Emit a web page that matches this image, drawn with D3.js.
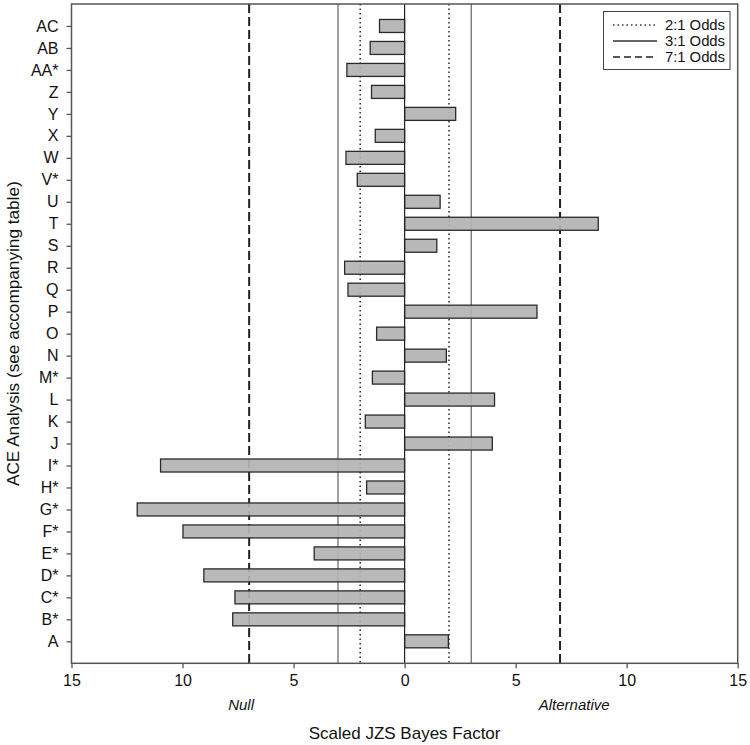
<!DOCTYPE html>
<html>
<head>
<meta charset="utf-8">
<script src="https://cdn.jsdelivr.net/npm/d3@7"></script>
<style>
  body { margin: 0; background: #fff; }
  svg { display: block; font-family: "Liberation Sans", Arial, sans-serif; }
</style>
</head>
<body>
<svg id="chart" width="750" height="745"></svg>
<script>
const categories = ["A","B*","C*","D*","E*","F*","G*","H*","I*","J","K","L","M*","N","O","P","Q","R","S","T","U","V*","W","X","Y","Z","AA*","AB","AC"];
const values = [1.97,-7.74,-7.64,-9.04,-4.07,-9.98,-12.04,-1.71,-10.99,3.95,-1.77,4.05,-1.45,1.88,-1.26,5.96,-2.55,-2.7,1.45,8.72,1.6,-2.13,-2.64,-1.32,2.3,-1.49,-2.6,-1.55,-1.13];
const xTicks = [-15,-10,-5,0,5,10,15];
const refLines = [
  {label: "2:1 Odds", value: 2, style: "dotted"},
  {label: "3:1 Odds", value: 3, style: "solid"},
  {label: "7:1 Odds", value: 7, style: "dashed"}
];
const sideLabels = [{text: "Null", value: -7.5}, {text: "Alternative", value: 7.5}];

const svg = d3.select("#chart");
const L = 71.5, R = 737.7, T = 4, B = 663.3;

const x = d3.scaleLinear().domain([-15, 15]).range([L, R]);
const y = d3.scalePoint().domain(categories).range([B, T]).padding(1);
const barH = 13;

const styles = {
  dotted: {stroke: "#333", width: 1.6, dash: "1.5,3"},
  solid: {stroke: "#555", width: 1.1, dash: null},
  dashed: {stroke: "#222", width: 2, dash: "9,4"}
};

// reference lines
refLines.forEach(r => {
  [-r.value, r.value].forEach(v => {
    const s = styles[r.style];
    svg.append("line")
      .attr("x1", x(v)).attr("x2", x(v))
      .attr("y1", T).attr("y2", B)
      .attr("stroke", s.stroke).attr("stroke-width", s.width)
      .attr("stroke-dasharray", s.dash);
  });
});

// bars
svg.append("g").selectAll("rect").data(categories).join("rect")
  .attr("x", (d, i) => x(Math.min(0, values[i])))
  .attr("width", (d, i) => Math.abs(x(values[i]) - x(0)))
  .attr("y", d => y(d) - barH / 2)
  .attr("height", barH)
  .attr("fill", "#b3b3b3")
  .attr("fill-opacity", 0.92)
  .attr("stroke", "#2a2a2a")
  .attr("stroke-width", 1.3);

// zero line
svg.append("line")
  .attr("x1", x(0)).attr("x2", x(0)).attr("y1", T).attr("y2", B)
  .attr("stroke", "#222").attr("stroke-width", 1.2);

// frame
svg.append("rect")
  .attr("x", L).attr("y", T).attr("width", R - L).attr("height", B - T)
  .attr("fill", "none").attr("stroke", "#555").attr("stroke-width", 1.5);

// x axis
const xAxis = svg.append("g").attr("transform", `translate(0,${B})`)
  .call(d3.axisBottom(x).tickValues(xTicks).tickFormat(d => Math.abs(d)).tickSize(5).tickPadding(6));
xAxis.select(".domain").remove();
xAxis.selectAll("line").attr("stroke", "#555").attr("stroke-width", 1.3);
xAxis.selectAll("text").attr("font-size", 16).attr("fill", "#111")
  .attr("font-family", "Liberation Sans, Arial, sans-serif");

// y axis
const yAxis = svg.append("g").attr("transform", `translate(${L},0)`)
  .call(d3.axisLeft(y).tickSize(5).tickPadding(8));
yAxis.select(".domain").remove();
yAxis.selectAll("line").attr("stroke", "#555").attr("stroke-width", 1.3);
yAxis.selectAll("text").attr("font-size", 16).attr("fill", "#111")
  .attr("font-family", "Liberation Sans, Arial, sans-serif");

// side labels
sideLabels.forEach(s => {
  svg.append("text").attr("x", x(s.value) + 3).attr("y", 710)
    .attr("text-anchor", "middle").attr("font-size", 15).attr("font-style", "italic")
    .attr("fill", "#111").text(s.text);
});

// axis titles
svg.append("text").attr("x", x(0)).attr("y", 739)
  .attr("text-anchor", "middle").attr("font-size", 17).attr("fill", "#111")
  .text("Scaled JZS Bayes Factor");
svg.append("text").attr("transform", `translate(19,${(T + B) / 2}) rotate(-90)`)
  .attr("text-anchor", "middle").attr("font-size", 17.2).attr("fill", "#111")
  .text("ACE Analysis (see accompanying table)");

// legend
const lg = svg.append("g");
lg.append("rect").attr("x", 603.5).attr("y", 11.5).attr("width", 126.5).attr("height", 58)
  .attr("fill", "#fff").attr("stroke", "#444").attr("stroke-width", 1);
refLines.forEach((r, i) => {
  const yy = 25 + i * 16;
  const s = styles[r.style];
  lg.append("line").attr("x1", 613).attr("x2", 657).attr("y1", yy).attr("y2", yy)
    .attr("stroke", r.style === "solid" ? "#333" : s.stroke)
    .attr("stroke-width", r.style === "dashed" ? 1.5 : (r.style === "solid" ? 1.4 : s.width))
    .attr("stroke-dasharray", r.style === "dashed" ? "7,4" : s.dash);
  lg.append("text").attr("x", 725).attr("y", yy + 5).attr("text-anchor", "end")
    .attr("font-size", 14.8).attr("fill", "#111").text(r.label);
});
</script>
</body>
</html>
